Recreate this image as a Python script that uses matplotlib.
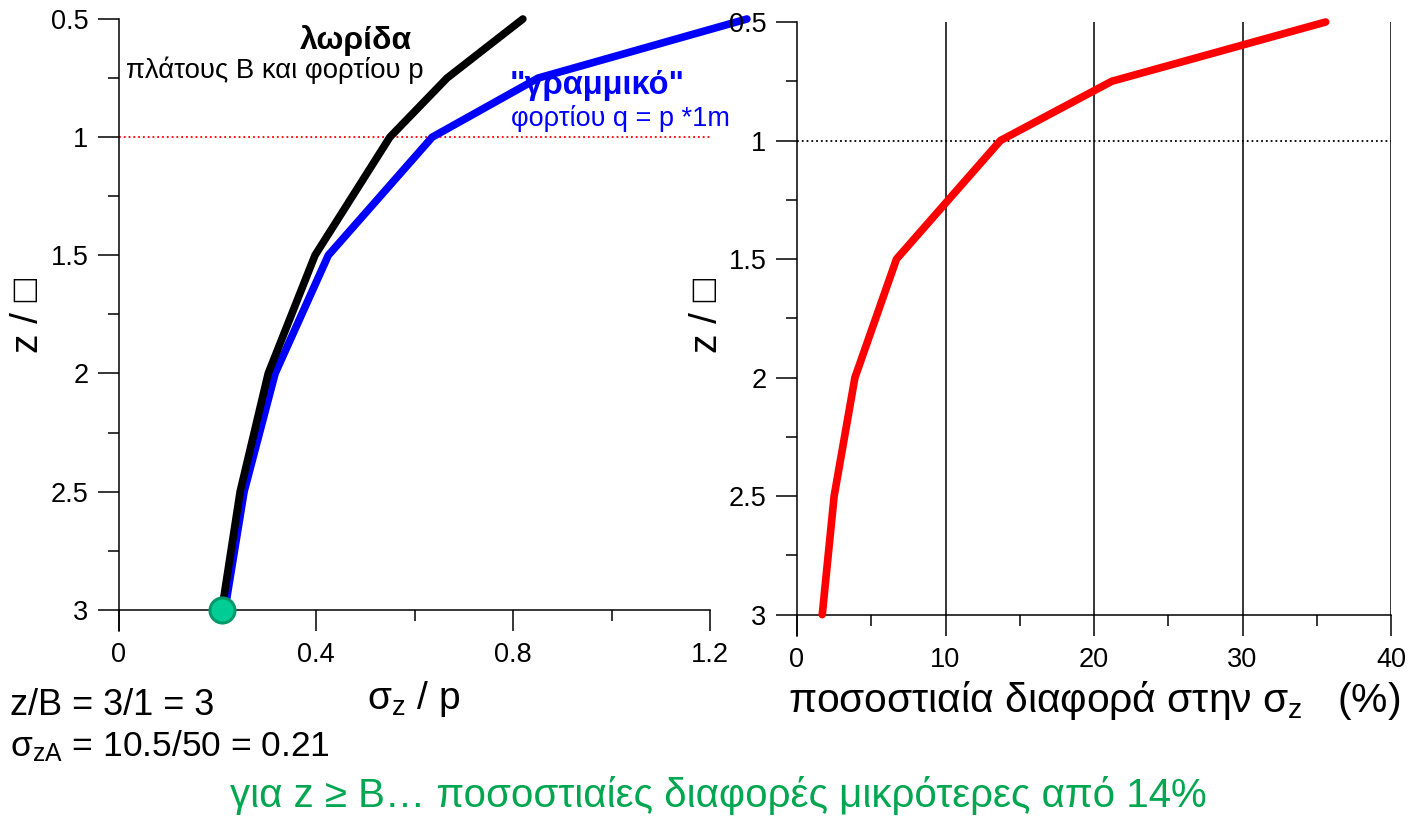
import numpy as np
import matplotlib
matplotlib.use("Agg")
import matplotlib.pyplot as plt
from matplotlib.ticker import MultipleLocator

plt.rcParams['font.family'] = ['Liberation Sans', 'DejaVu Sans']
plt.rcParams['mathtext.default'] = 'regular'

# depth ratio z/B
z = [0.5, 0.75, 1.0, 1.5, 2.0, 2.5, 3.0]
# sigma_z / p for strip load (black) and line load (blue)
strip = [0.820, 0.666, 0.550, 0.398, 0.303, 0.246, 0.209]
line_load = [1.275, 0.851, 0.636, 0.425, 0.317, 0.254, 0.215]
# percentage difference
diff_pct = [35.6, 21.2, 13.7, 6.7, 3.9, 2.5, 1.7]

point_A = (0.21, 3.0)

W, H = 1420, 816
fig = plt.figure(figsize=(W / 100, H / 100), dpi=100)

def px(x, y):
    return x / W, 1 - y / H

ax1 = fig.add_axes([119 / W, 1 - 631 / H, 591 / W, 612 / H])
ax2 = fig.add_axes([797 / W, 1 - 636 / H, 594 / W, 614 / H])

for ax in (ax1, ax2):
    ax.set_ylim(3.09, 0.5)
    ax.spines['top'].set_visible(False)
    ax.spines['right'].set_visible(False)
    ax.spines['bottom'].set_position(('data', 3))
    for s in ('left', 'bottom'):
        ax.spines[s].set_linewidth(1.1)
    ax.yaxis.set_minor_locator(MultipleLocator(0.25))
    ax.tick_params(which='major', direction='out', length=15, width=1.1,
                   labelsize=19.5)
    ax.tick_params(axis='x', which='major', pad=8)
    ax.tick_params(axis='y', which='major', pad=7)
    ax.tick_params(which='minor', direction='out', length=8, width=1.1)
    ax.set_yticks([0.5, 1, 1.5, 2, 2.5, 3])
    ax.set_yticklabels(['0.5', '1', '1.5', '2', '2.5', '3'])

# left panel
ax1.set_xlim(0, 1.2)
ax1.set_xticks([0, 0.4, 0.8, 1.2])
ax1.set_xticklabels(['0', '0.4', '0.8', '1.2'])
ax1.xaxis.set_minor_locator(MultipleLocator(0.2))
ax1.spines['bottom'].set_bounds(0, 1.2)
ax1.hlines(1.0, 0, 1.2, colors='red', linestyles=':', linewidth=1.3)
ax1.plot(line_load, z, color='#0000ff', linewidth=5.5, clip_on=False,
         solid_capstyle='round', zorder=3)
ax1.plot(strip, z, color='black', linewidth=5.5, clip_on=False,
         solid_capstyle='round', zorder=4)
ax1.plot(*point_A, 'o', markersize=18, markerfacecolor='#00cc96',
         markeredgecolor='#00996b', markeredgewidth=2.2, clip_on=False, zorder=5)

# right panel
ax2.set_xlim(0, 40)
ax2.set_xticks([0, 10, 20, 30, 40])
ax2.xaxis.set_minor_locator(MultipleLocator(5))
ax2.spines['bottom'].set_bounds(0, 40)
ax2.vlines([10, 20, 30, 40], 0.5, 3, colors='black', linewidth=1.1)
ax2.hlines(1.0, 0, 40, colors='black', linestyles=':', linewidth=1.3)
ax2.plot(diff_pct, z, color='#ff0000', linewidth=5.5, clip_on=False,
         solid_capstyle='round', zorder=3)

# annotations
fig.text(*px(356, 49), 'λωρίδα', fontsize=23, fontweight='bold',
         ha='center', va='baseline')
fig.text(*px(126, 78), 'πλάτους B και φορτίου p', fontsize=19.8,
         ha='left', va='baseline')
fig.text(*px(510, 94), '"γραμμικό"', fontsize=23.5, fontweight='bold',
         color='#0000ff', ha='left', va='baseline')
fig.text(*px(511, 126), 'φορτίου q = p *1m', fontsize=19.5,
         color='#0000ff', ha='left', va='baseline')

fig.text(*px(28, 315), 'z / □', fontsize=28, rotation=90,
         ha='center', va='center')
fig.text(*px(707, 315), 'z / □', fontsize=28, rotation=90,
         ha='center', va='center')

fig.text(*px(367, 709), 'σ$_z$ / p', fontsize=28, ha='left', va='baseline')
fig.text(*px(10, 715), 'z/B = 3/1 = 3', fontsize=26, ha='left', va='baseline')
fig.text(*px(10, 756), 'σ$_{zA}$ = 10.5/50 = 0.21', fontsize=25.5,
         ha='left', va='baseline')
fig.text(*px(788, 712), 'ποσοστιαία διαφορά στην σ$_z$   (%)', fontsize=29.3,
         ha='left', va='baseline')
fig.text(*px(718, 807), 'για z ≥ B… ποσοστιαίες διαφορές μικρότερες από 14%',
         fontsize=29, color='#00a650', ha='center', va='baseline')

fig.savefig('out.png', dpi=100)
